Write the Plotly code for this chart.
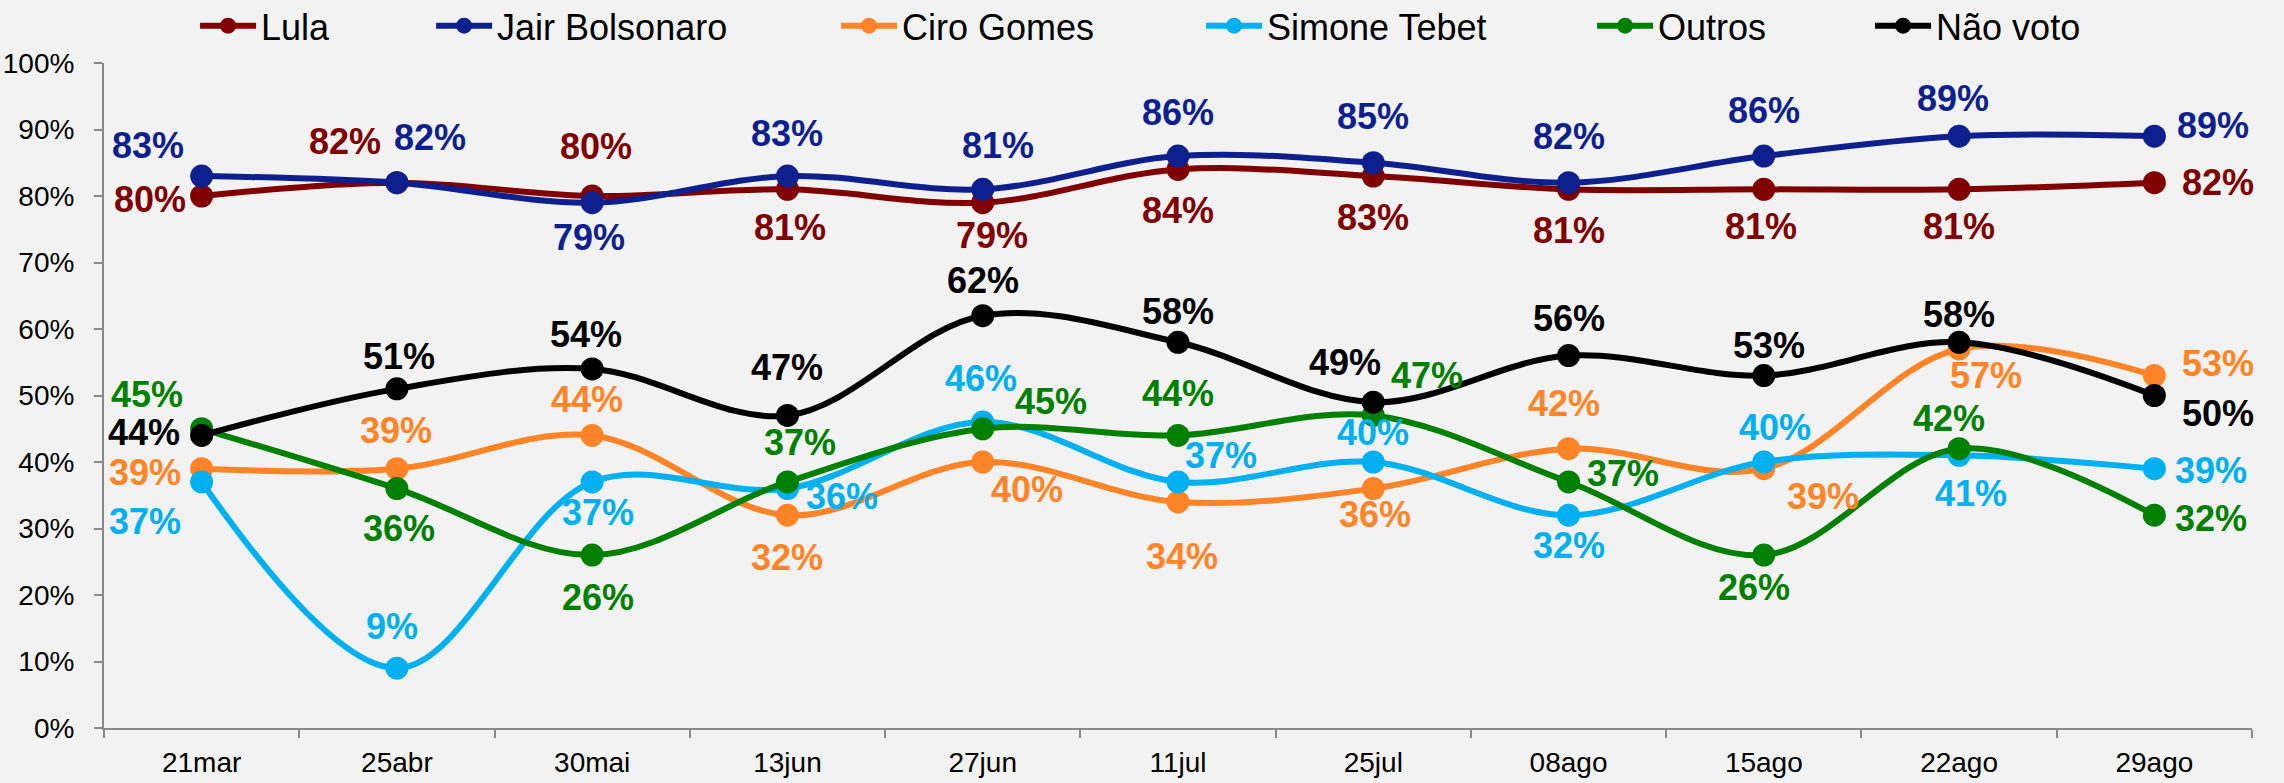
import plotly.graph_objects as go

# ---------------- data ----------------
categories = ["21mar", "25abr", "30mai", "13jun", "27jun", "11jul",
              "25jul", "08ago", "15ago", "22ago", "29ago"]
lula = [80, 82, 80, 81, 79, 84, 83, 81, 81, 81, 82]
bolsonaro = [83, 82, 79, 83, 81, 86, 85, 82, 86, 89, 89]
ciro = [39, 39, 44, 32, 40, 34, 36, 42, 39, 57, 53]
simone = [37, 9, 37, 36, 46, 37, 40, 32, 40, 41, 39]
outros = [45, 36, 26, 37, 45, 44, 47, 37, 26, 42, 32]
nao_voto = [44, 51, 54, 47, 62, 58, 49, 56, 53, 58, 50]
series_names = ["Lula", "Jair Bolsonaro", "Ciro Gomes", "Simone Tebet", "Outros", "Não voto"]
y_tick_values = [0, 10, 20, 30, 40, 50, 60, 70, 80, 90, 100]
y_tick_labels = [f"{v}%" for v in y_tick_values]

# ---------------- styles ----------------
series_values = [lula, bolsonaro, ciro, simone, outros, nao_voto]
colors = ["#800000", "#0E1F8E", "#FF8427", "#00B0F0", "#008000", "#000000"]
legend_widths = [165, 334, 294, 320, 207, 200]

# label offsets in pixels (dx right, dy down) relative to each point
label_offsets = [
    [(-52, 3), (-52, -41), (4, -50), (3, 38), (9, 33), (0, 41), (0, 41), (0, 41), (-3, 37), (0, 37), (64, 0)],
    [(-54, -31), (33, -45), (-3, 35), (0, -43), (15, -44), (0, -44), (0, -46), (0, -46), (0, -46), (-6, -38), (59, -11)],
    [(-57, 4), (-1, -38), (-5, -36), (0, 42), (44, 27), (4, 55), (2, 26), (-5, -45), (59, 28), (27, 27), (64, -12)],
    [(-57, 40), (-5, -42), (6, 31), (55, 8), (-2, -44), (43, -26), (0, -30), (0, 30), (11, -35), (12, 38), (57, 2)],
    [(-55, -34), (2, 40), (6, 42), (13, -39), (68, -27), (0, -42), (54, -40), (54, -8), (-10, 32), (-10, -30), (57, 3)],
    [(-58, -3), (2, -32), (-6, -34), (0, -48), (0, -35), (0, -31), (-28, -40), (0, -37), (5, -30), (0, -28), (64, 18)],
]

BG = "#F2F2F2"
AXIS = "#898989"
FONT = "Liberation Sans, Arial, sans-serif"

fig = go.Figure()
annotations = []
for name, vals, col, lw, offs in zip(series_names, series_values, colors, legend_widths, label_offsets):
    fig.add_trace(go.Scatter(
        x=categories, y=vals, name=name, mode="lines+markers",
        line=dict(color=col, width=6, shape="spline", smoothing=1.0),
        marker=dict(color=col, size=23),
        legendwidth=lw, cliponaxis=False, hoverinfo="skip",
    ))
    for c, v, (dx, dy) in zip(categories, vals, offs):
        annotations.append(dict(
            x=c, y=v, xref="x", yref="y", text=f"{v}%", showarrow=False,
            xshift=dx, yshift=-dy, xanchor="center", yanchor="middle",
            font=dict(family=FONT, size=36, color=col, weight="bold"),
        ))

fig.update_layout(
    width=2284, height=783,
    margin=dict(l=104, r=32, t=63, b=55, autoexpand=False),
    paper_bgcolor=BG, plot_bgcolor=BG,
    font=dict(family=FONT, color="#000000"),
    annotations=annotations,
    showlegend=True,
    legend=dict(
        orientation="h", x=0.0424, xanchor="left", y=1.056, yanchor="middle",
        font=dict(family=FONT, size=36, color="#000000"),
        itemwidth=56, bgcolor="rgba(0,0,0,0)", traceorder="normal",
        itemclick=False, itemdoubleclick=False,
    ),
    xaxis=dict(
        type="category", range=[-0.5, len(categories) - 0.5],
        showline=True, linecolor=AXIS, linewidth=2,
        ticks="outside", tickson="boundaries", ticklen=8, tickcolor=AXIS, tickwidth=2,
        showgrid=False, zeroline=False,
        tickfont=dict(family=FONT, size=28, color="#000000"),
        ticklabelstandoff=8,
    ),
    yaxis=dict(
        range=[0, 100], tickmode="array", tickvals=y_tick_values, ticktext=y_tick_labels,
        showline=True, linecolor=AXIS, linewidth=2,
        ticks="outside", ticklen=8, tickcolor=AXIS, tickwidth=2,
        showgrid=False, zeroline=False,
        tickfont=dict(family=FONT, size=28, color="#000000"),
        ticklabelstandoff=14,
    ),
)

fig.write_html(
    "out.html",
    config={"displayModeBar": False, "staticPlot": False},
    post_script="document.body.style.margin='0';document.body.style.overflow='hidden';",
)
